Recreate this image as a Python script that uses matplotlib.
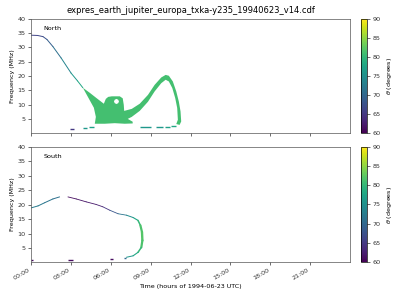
import numpy as np
import matplotlib
matplotlib.use("Agg")
import matplotlib.pyplot as plt
from matplotlib.collections import LineCollection
from matplotlib.colors import Normalize
from matplotlib.cm import ScalarMappable

# time in hours of 1994-06-23, frequency in MHz, theta in degrees
tick_hours = [0, 3, 6, 9, 12, 15, 18, 21]
tick_labels = ['00:00', '03:00', '06:00', '09:00', '12:00', '15:00', '18:00', '21:00']
freq_ticks = [5, 10, 15, 20, 25, 30, 35, 40]
cbar_ticks = [60, 65, 70, 75, 80, 85, 90]

# North: high frequency arc
n_line_t = [0.0, 0.5, 0.9, 1.2, 1.65, 2.27, 3.02, 3.5, 3.9]
n_line_f = [34.3, 34.2, 33.8, 32.8, 30.3, 26.3, 21.0, 18.3, 15.9]
n_line_theta = [66, 66, 67, 68, 70, 72, 75, 77, 79]

# North: emission region outline
n_blob_t = [3.90, 4.43, 4.95, 5.48, 5.63, 5.81, 6.08, 6.68, 6.90, 6.98, 7.01,
            7.58, 8.18, 8.80, 9.30, 9.80, 10.13, 10.37, 10.67, 10.93, 11.12,
            11.25, 11.30, 11.18, 10.93, 11.05, 11.00, 10.85, 10.63, 10.37,
            10.13, 9.80, 9.30, 8.80, 8.18, 7.58, 7.28, 7.65, 7.65, 7.05, 6.30,
            5.55, 4.80, 4.88, 4.73, 4.28]
n_blob_f = [15.9, 14.1, 12.2, 10.3, 12.0, 12.7, 12.9, 12.9, 12.2, 9.9, 7.8,
            8.5, 10.3, 13.4, 16.9, 19.5, 20.4, 20.1, 18.1, 14.6, 11.1,
            7.6, 4.1, 2.9, 3.2, 4.7, 8.8, 12.3, 15.8, 18.1,
            18.7, 17.5, 14.6, 11.0, 7.8, 5.7, 5.0, 4.0, 3.4, 3.3, 3.5,
            3.3, 3.3, 5.7, 8.9, 12.7]
n_blob_theta = 81
n_hole_t = [6.62, 6.56, 6.43, 6.30, 6.24, 6.30, 6.43, 6.56]
n_hole_f = [11.1, 11.7, 12.0, 11.7, 11.1, 10.5, 10.2, 10.5]

# North: short low-frequency pieces
n_dash_t0 = [2.93, 3.90, 4.40, 8.18, 9.43, 10.05, 10.55]
n_dash_t1 = [3.25, 4.20, 4.75, 9.05, 9.93, 10.43, 10.93]
n_dash_f = [1.4, 1.8, 2.3, 2.1, 2.1, 2.2, 2.5]
n_dash_theta = [65, 76, 77, 76, 76, 77, 78]

# South
s_a_t = [0.0, 0.53, 1.03, 1.65, 2.15]
s_a_f = [18.9, 19.6, 20.7, 22.0, 22.7]
s_a_theta = [73, 72, 72, 71, 71]
s_b_t = [2.78, 3.4, 4.15, 4.9, 5.4, 5.93, 6.55, 7.18, 7.68, 8.05, 8.23, 8.35,
         8.38, 8.3, 8.05, 7.68, 7.18]
s_b_f = [22.7, 22.0, 21.0, 20.1, 19.3, 18.1, 16.9, 16.4, 15.6, 14.6, 12.9, 10.6,
         7.7, 5.3, 3.6, 2.4, 1.9]
s_b_theta = [61, 61, 62, 62, 63, 66, 70, 73, 76, 79, 81, 82, 82, 81, 79, 77, 75]
s_dash_t0 = [0.0, 2.80, 5.93, 7.00]
s_dash_t1 = [0.15, 3.17, 6.17, 7.12]
s_dash_f = [0.95, 1.0, 1.3, 1.7]
s_dash_theta = [61, 61, 61, 70]

# line widths per segment of the south descending branch (thicker where vertical)
s_b_lw = [0.6, 0.6, 0.6, 0.6, 0.6, 0.6, 0.6, 0.7, 0.8, 1.1, 1.6, 1.7, 1.6, 1.1, 0.8, 0.7]

cmap = plt.get_cmap('viridis')
norm = Normalize(60, 90)
fs = 4.6


def draw_line(ax, t, f, theta, lw):
    pts = np.column_stack([t, f])
    segs = np.stack([pts[:-1], pts[1:]], axis=1)
    vals = (np.array(theta[:-1]) + np.array(theta[1:])) / 2
    lc = LineCollection(segs, cmap=cmap, norm=norm, linewidths=lw, capstyle='round')
    lc.set_array(vals)
    ax.add_collection(lc)


def draw_dashes(ax, t0, t1, f, theta):
    ax.hlines(f, t0, t1, colors=cmap(norm(np.array(theta))), linewidth=1.0)


fig = plt.figure(figsize=(4, 3), dpi=100)
ax1 = fig.add_axes([0.0775, 0.558, 0.7975, 0.379])
ax2 = fig.add_axes([0.0775, 0.126, 0.7975, 0.385])

draw_line(ax1, n_line_t, n_line_f, n_line_theta, 0.7)
ax1.fill(n_blob_t, n_blob_f, color=cmap(norm(n_blob_theta)), lw=0)
ax1.fill(n_hole_t, n_hole_f, color='white', lw=0)
draw_dashes(ax1, n_dash_t0, n_dash_t1, n_dash_f, n_dash_theta)

draw_line(ax2, s_a_t, s_a_f, s_a_theta, 0.7)
draw_line(ax2, s_b_t, s_b_f, s_b_theta, s_b_lw)
draw_dashes(ax2, s_dash_t0, s_dash_t1, s_dash_f, s_dash_theta)

for ax, name in [(ax1, 'North'), (ax2, 'South')]:
    ax.set_xlim(0, 24)
    ax.set_ylim(0.2, 40)
    ax.set_yticks(freq_ticks)
    ax.set_xticks(tick_hours)
    ax.set_ylabel('Frequency (MHz)', fontsize=fs, labelpad=2)
    ax.tick_params(labelsize=fs, length=2.5, width=0.5, pad=1.5, colors='#333333')
    for sp in ax.spines.values():
        sp.set_linewidth(0.5)
        sp.set_color('#555555')
    ax.text(0.04, 0.94, name, transform=ax.transAxes, fontsize=fs, va='top')

ax1.set_xticklabels([])
ax2.set_xticklabels(tick_labels, rotation=30, ha='right')
ax2.set_xlabel('Time (hours of 1994-06-23 UTC)', fontsize=fs, labelpad=2)
ax1.set_title('expres_earth_jupiter_europa_txka-y235_19940623_v14.cdf', fontsize=6, pad=4)

for ax in (ax1, ax2):
    pos = ax.get_position()
    cax = fig.add_axes([0.902, pos.y0, 0.0165, pos.height])
    cb = fig.colorbar(ScalarMappable(norm=norm, cmap=cmap), cax=cax, ticks=cbar_ticks)
    cb.outline.set_linewidth(0.5)
    cb.ax.tick_params(labelsize=fs, length=2, width=0.5, pad=1.5, colors='#333333')
    cb.set_label(r'$\theta$ (degrees)', fontsize=fs, labelpad=3)

fig.savefig('out.png', dpi=100)
